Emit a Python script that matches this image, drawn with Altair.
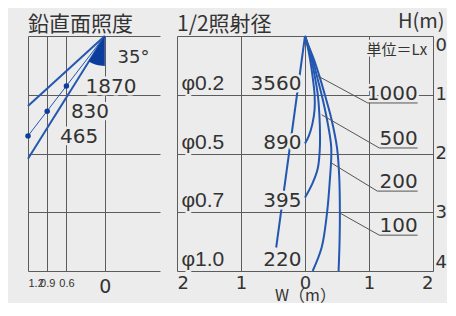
import altair as alt
import numpy as np
import pandas as pd

BG = "#ececec"
GRID = "#5c5c5c"
TXT = "#333333"
BLUE = "#2357b0"
DARK = "#0b3d9e"
NUM_FONT = "DejaVu Sans"
JP_FONT = "Noto Sans CJK JP"

# ---------------- left panel : vertical illuminance ----------------
wall_ticks = [1.2, 0.9, 0.6, 0.0]          # distance from wall (m)
depth_ticks = [0, 1, 2, 3, 4]              # H (m)
edge_names = ["upper", "lower"]
edge_end_d = [1.2, 1.2]
edge_end_h = [1.19, 2.09]
axis_end_d = 1.2
axis_end_h = 1.70
dot_d = [0.6, 0.9, 1.2]
dot_h = [0.85, 1.28, 1.70]
vert_lux = ["1870", "830", "465"]
vert_lux_d = [0.30, 0.53, 0.70]
vert_lux_h = [0.97, 1.40, 1.82]
angle_label = ["35°"]
angle_label_d = [-0.20]
angle_label_h = [0.46]
left_title = ["鉛直面照度"]
left_title_d = [1.2]
left_title_h = [-0.085]

# ---------------- right panel : 1/2 beam diameter & isolux ----------------
depth_m = [1, 2, 3, 4]
spot_diam = ["φ0.2", "φ0.5", "φ0.7", "φ1.0"]
center_lux = ["3560", "890", "395", "220"]
half_beam_w = [0.0, -0.45]
half_beam_h = [0.0, 3.6]

iso_1000_h = [0, 0.15, 0.4, 0.7, 1.0, 1.25, 1.5, 1.7, 1.83]
iso_1000_w = [0, 0.035, 0.08, 0.12, 0.15, 0.15, 0.115, 0.06, 0]
iso_500_h = [0, 0.15, 0.4, 0.7, 1.0, 1.35, 1.7, 1.95, 2.25, 2.5, 2.75]
iso_500_w = [0, 0.04, 0.1, 0.155, 0.2, 0.225, 0.235, 0.23, 0.2, 0.12, 0]
iso_200_h = [0, 0.15, 0.4, 0.7, 1.0, 1.4, 1.9, 2.5, 3.05, 3.6, 4.0]
iso_200_w = [0, 0.045, 0.12, 0.19, 0.26, 0.34, 0.41, 0.385, 0.34, 0.26, 0.12]
iso_100_h = [0, 0.15, 0.4, 0.7, 1.0, 1.4, 1.9, 2.4, 3.0, 3.5, 4.0]
iso_100_w = [0, 0.05, 0.14, 0.23, 0.31, 0.41, 0.5, 0.535, 0.545, 0.54, 0.525]

iso_labels = ["1000", "500", "200", "100"]
leader_w = [0.20, 0.26, 0.41, 0.54]
leader_h = [0.68, 1.34, 2.16, 3.01]
under_w1 = [0.98, 1.16, 1.13, 1.16]
under_w2 = [1.76, 1.76, 1.76, 1.76]
under_h = [1.14, 1.906, 2.64, 3.39]
unit_label = ["単位＝Lx"]
unit_w = [1.91]
unit_h = [0.32]
right_title = ["1/2照射径"]
right_title_w = [-2.0]
right_title_h = [-0.085]
h_title = ["H(m)"]
h_title_w = [2.18]
h_title_h = [-0.14]

# ---------------- data frames ----------------
edges = pd.DataFrame({
    "beam": [n for n in edge_names for _ in range(2)],
    "d": [v for e in edge_end_d for v in (0.0, e)],
    "h": [v for e in edge_end_h for v in (0.0, e)],
})
center_beam = pd.DataFrame({"d": [0.0, axis_end_d], "h": [0.0, axis_end_h]})
dots = pd.DataFrame({"d": dot_d, "h": dot_h})
vlabels = pd.DataFrame({"t": vert_lux, "d": vert_lux_d, "h": vert_lux_h})
alabel = pd.DataFrame({"t": angle_label, "d": angle_label_d, "h": angle_label_h})
ltitle = pd.DataFrame({"t": left_title, "d": left_title_d, "h": left_title_h})

# wedge marking the beam angle, between the vertical and the lower edge
R = 30.0
theta = np.arctan2(edge_end_d[1] * 64.0, edge_end_h[1] * 58.75)
py = np.linspace(0, R, 40)
px = np.where(py <= R * np.cos(theta), py * np.tan(theta), np.sqrt(np.maximum(R**2 - py**2, 0)))
wedge = pd.DataFrame({"h": py / 58.75, "d": px / 64.0, "d0": 0.0})

half = pd.DataFrame({"w": half_beam_w, "h": half_beam_h})
rows = []
for name, hs, ws in [("1000", iso_1000_h, iso_1000_w), ("500", iso_500_h, iso_500_w),
                     ("200", iso_200_h, iso_200_w), ("100", iso_100_h, iso_100_w)]:
    for i, (h, w) in enumerate(zip(hs, ws)):
        rows.append({"lux": name, "i": i, "h": h, "w": w})
iso = pd.DataFrame(rows)
leaders = pd.DataFrame({"w": leader_w, "h": leader_h, "w2": under_w1, "h2": under_h})
unders = pd.DataFrame({"w": under_w1, "w2": under_w2, "h": under_h, "t": iso_labels})
phi = pd.DataFrame({"t": spot_diam, "h": depth_m, "w": -1.93})
clux = pd.DataFrame({"t": center_lux, "h": depth_m, "w": -0.055})
unit = pd.DataFrame({"t": unit_label, "w": unit_w, "h": unit_h})
rtitle = pd.DataFrame({"t": right_title, "w": right_title_w, "h": right_title_h})
htitle = pd.DataFrame({"t": h_title, "w": h_title_w, "h": h_title_h})

# ---------------- scales & axes ----------------
sy = alt.Scale(domain=[0, 4], reverse=True, nice=False, zero=False)
sxl = alt.Scale(domain=[1.2, -0.8625], nice=False, zero=False)
sxr = alt.Scale(domain=[-2, 2], nice=False, zero=False)

ax_xl = alt.Axis(values=wall_ticks, title=None, grid=True, gridColor=GRID, gridOpacity=1,
                 domain=False, ticks=False, labelOverlap=False, labelPadding=6, labelColor=TXT,
                 labelExpr="datum.value == 0 ? '0' : format(datum.value, '.1f')",
                 labelFontSize={"condition": {"test": "datum.value == 0", "value": 19}, "value": 11},
                 labelFont={"condition": {"test": "datum.value == 0", "value": NUM_FONT},
                            "value": "Liberation Sans Narrow, Liberation Sans"})
ax_yl = alt.Axis(values=depth_ticks, title=None, grid=True, gridColor=GRID, gridOpacity=1,
                 domain=False, ticks=False, labels=False)
ax_xr = alt.Axis(values=[-2, -1, 0, 1, 2], title="W（m）", grid=True, gridColor=GRID, gridOpacity=1,
                 domain=False, ticks=False, labelOverlap=False, labelFlush=True, labelPadding=3,
                 labelExpr="'' + abs(datum.value)", labelFont=NUM_FONT, labelFontSize=18,
                 labelColor=TXT, titleFont=JP_FONT, titleFontSize=16, titleFontWeight="normal",
                 titleColor=TXT, titlePadding=-5)
ax_yr = alt.Axis(orient="right", values=depth_ticks, title=None, grid=True, gridColor=GRID,
                 gridOpacity=1, domain=False, ticks=False, labelOverlap=False, labelFlush=True,
                 labelPadding=2, labelFont=NUM_FONT, labelFontSize=18, labelColor=TXT)


def XL(f):
    return alt.X(f, type="quantitative", scale=sxl, axis=ax_xl)


def YL(f):
    return alt.Y(f, type="quantitative", scale=sy, axis=ax_yl)


def XR(f):
    return alt.X(f, type="quantitative", scale=sxr, axis=ax_xr)


def YR(f):
    return alt.Y(f, type="quantitative", scale=sy, axis=ax_yr)


def text_layers(df, X, Y, xf, yf, **kw):
    halo = alt.Chart(df).mark_text(stroke=BG, strokeWidth=5, strokeJoin="round", fill=BG, **kw).encode(
        x=X(xf), y=Y(yf), text="t:N")
    txt = alt.Chart(df).mark_text(fill=TXT, **kw).encode(x=X(xf), y=Y(yf), text="t:N")
    return [halo, txt]


# ---------------- left chart ----------------
l_edges = alt.Chart(edges).mark_line(color=BLUE, strokeWidth=2).encode(x=XL("d"), y=YL("h"), detail="beam:N")
l_center = alt.Chart(center_beam).mark_line(color=BLUE, strokeWidth=1).encode(x=XL("d"), y=YL("h"))
l_wedge = alt.Chart(wedge).mark_area(orient="horizontal", color=DARK, opacity=1).encode(
    y=YL("h"), x=XL("d"), x2="d0")
l_dots = alt.Chart(dots).mark_circle(color=DARK, size=30, opacity=1).encode(x=XL("d"), y=YL("h"))
l_text = text_layers(vlabels, XL, YL, "d", "h", font=NUM_FONT, fontSize=20, align="left", baseline="alphabetic")
l_ang = text_layers(alabel, XL, YL, "d", "h", font=NUM_FONT, fontSize=18, align="left", baseline="alphabetic")
l_title = alt.Chart(ltitle).mark_text(fill=TXT, font=JP_FONT, fontSize=21, align="left",
                                      baseline="alphabetic").encode(x=XL("d"), y=YL("h"), text="t:N")

left = alt.layer(l_edges, l_center, l_wedge, l_dots, *l_text, *l_ang, l_title).properties(
    width=132, height=235)

# ---------------- right chart ----------------
r_half = alt.Chart(half).mark_line(color=BLUE, strokeWidth=2).encode(x=XR("w"), y=YR("h"))
r_iso = alt.Chart(iso).mark_line(color=BLUE, strokeWidth=2, interpolate="catmull-rom").encode(
    x=XR("w"), y=YR("h"), detail="lux:N", order="i:Q")
r_phi = text_layers(phi, XR, YR, "w", "h", font="Liberation Sans", fontSize=21, align="left",
                    baseline="alphabetic", dy=-5)
r_clux = text_layers(clux, XR, YR, "w", "h", font=NUM_FONT, fontSize=20, align="right",
                     baseline="alphabetic", dy=-5)
r_lab = text_layers(unders, XR, YR, "w2", "h", font=NUM_FONT, fontSize=20, align="right",
                    baseline="alphabetic", dy=-3)
r_unit = text_layers(unit, XR, YR, "w", "h", font=JP_FONT, fontSize=15, align="right",
                     baseline="alphabetic")
r_title1 = alt.Chart(rtitle).mark_text(fill=TXT, font=JP_FONT, fontSize=21, align="left",
                                       baseline="alphabetic").encode(x=XR("w"), y=YR("h"), text="t:N")
r_title2 = alt.Chart(htitle).mark_text(fill=TXT, font=JP_FONT, fontSize=20, align="right",
                                       baseline="alphabetic").encode(x=XR("w"), y=YR("h"), text="t:N")
r_lead = alt.Chart(leaders).mark_rule(color="#555555", strokeWidth=1).encode(
    x=XR("w"), y=YR("h"), x2="w2", y2="h2")
r_under = alt.Chart(unders).mark_rule(color="#555555", strokeWidth=1).encode(
    x=XR("w"), x2="w2", y=YR("h"))

right = alt.layer(r_half, r_iso, r_phi[0], r_clux[0], r_lab[0], r_unit[0], r_lead, r_under,
                  r_phi[1], r_clux[1], r_lab[1], r_unit[1], r_title1, r_title2).properties(
    width=256, height=235)

chart = alt.hconcat(left, right, spacing=17).properties(
    background=BG, padding={"left": 16, "top": 3, "right": 0, "bottom": 0}
).configure_view(stroke=None)

chart.save("out.html", embed_options={"renderer": "svg", "actions": False})
